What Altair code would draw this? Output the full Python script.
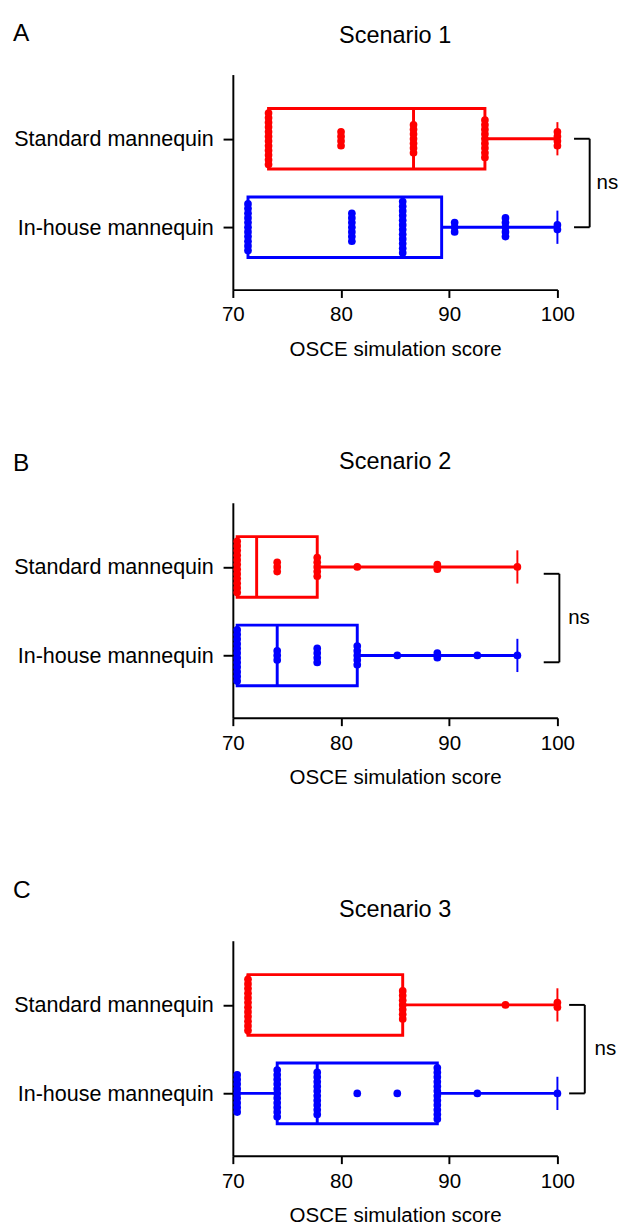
import altair as alt
import pandas as pd

# ---------------- data ----------------
GROUPS = ["Standard mannequin", "In-house mannequin"]
COLORS = ["#ff0000", "#0000ff"]
X_TICKS = [70, 80, 90, 100]
LETTERS = ["A", "B", "C"]
TITLES = ["Scenario 1", "Scenario 2", "Scenario 3"]
SIG_LABEL = "ns"

# Scenario 1 - individual scores (value, number of students)
s1_standard_scores = [73.3, 80.0, 86.7, 93.3, 100.0]
s1_standard_counts = [12, 4, 7, 9, 4]
s1_inhouse_scores = [71.4, 81.0, 85.7, 90.5, 95.2, 100.0]
s1_inhouse_counts = [11, 7, 12, 3, 5, 2]
# box summary: min, Q1, median, Q3, max
s1_standard_box = [73.3, 73.3, 86.7, 93.3, 100.0]
s1_inhouse_box = [71.4, 71.4, 85.7, 89.3, 100.0]

# Scenario 2
s2_standard_scores = [70.4, 74.1, 77.8, 81.5, 88.9, 96.3]
s2_standard_counts = [12, 3, 5, 1, 2, 1]
s2_inhouse_scores = [70.4, 74.1, 77.8, 81.5, 85.2, 88.9, 92.6, 96.3]
s2_inhouse_counts = [12, 3, 4, 5, 1, 2, 1, 1]
s2_standard_box = [70.4, 70.4, 72.2, 77.8, 96.3]
s2_inhouse_box = [70.4, 70.4, 74.1, 81.5, 96.3]

# Scenario 3
s3_standard_scores = [71.4, 85.7, 95.2, 100.0]
s3_standard_counts = [12, 7, 1, 2]
s3_inhouse_scores = [70.4, 74.1, 77.8, 81.5, 85.2, 88.9, 92.6, 100.0]
s3_inhouse_counts = [9, 11, 10, 1, 1, 12, 1, 1]
s3_standard_box = [71.4, 71.4, 71.4, 85.7, 100.0]
s3_inhouse_box = [70.4, 74.1, 77.8, 88.9, 100.0]

PANELS = [
    dict(scores=[s1_standard_scores, s1_inhouse_scores],
         counts=[s1_standard_counts, s1_inhouse_counts],
         box=[s1_standard_box, s1_inhouse_box]),
    dict(scores=[s2_standard_scores, s2_inhouse_scores],
         counts=[s2_standard_counts, s2_inhouse_counts],
         box=[s2_standard_box, s2_inhouse_box]),
    dict(scores=[s3_standard_scores, s3_inhouse_scores],
         counts=[s3_standard_counts, s3_inhouse_counts],
         box=[s3_standard_box, s3_inhouse_box]),
]

# ---------------- styling / layout ----------------
FONT = "Liberation Sans"
W, H = 332, 220
Y_DOMAIN = [-0.67, 1.65]
PX_PER_UNIT = H / (Y_DOMAIN[1] - Y_DOMAIN[0])
DOT_STEP = 5 / PX_PER_UNIT        # vertical spacing of stacked dots
BOX_PX = 62
CAP_PX = 34
# bracket placement relative to right edge of plot: (x0, x1, text x, y shift)
BRACKET = [(17, 33, 40, 0), (-14, 2, 11, 7), (12, 28, 38, 0)]
# baseline of panel letter / scenario title above the plot top
LETTER_Y = [-34, -32, -44]
TITLE_Y = [-32, -35, -24]

xscale = alt.Scale(domain=[70, 100], nice=False, zero=False)
yscale = alt.Scale(domain=Y_DOMAIN, reverse=True, nice=False, zero=False)
label_expr = f"datum.value == 0 ? '{GROUPS[0]}' : '{GROUPS[1]}'"
xaxis = alt.Axis(values=X_TICKS, title="OSCE simulation score", tickSize=8,
                 labelPadding=7, titlePadding=14, labelFlush=False, grid=False)
yaxis = alt.Axis(values=[0, 1], labelExpr=label_expr, title=None, tickSize=10,
                 labelPadding=10, labelLimit=400, labelFontSize=22, grid=False)
color = alt.Color("group:N", scale=alt.Scale(domain=GROUPS, range=COLORS), legend=None)


def X(field):
    return alt.X(field, type="quantitative", scale=xscale, axis=xaxis)


def Y(field):
    return alt.Y(field, type="quantitative", scale=yscale, axis=yaxis)


def build(i, p):
    rows = []
    for gi, (vals, cnts) in enumerate(zip(p["scores"], p["counts"])):
        for v, n in zip(vals, cnts):
            for k in range(n):
                rows.append({"group": GROUPS[gi], "score": v,
                             "pos": gi + (k - (n - 1) / 2) * DOT_STEP})
    dots = pd.DataFrame(rows)
    boxes = pd.DataFrame([
        {"group": GROUPS[gi], "gi": gi, "lo": b[0], "q1": b[1], "med": b[2],
         "q3": b[3], "hi": b[4]} for gi, b in enumerate(p["box"])
    ])
    low_whisk = boxes[boxes["lo"] < boxes["q1"]]

    box = alt.Chart(boxes).mark_bar(size=BOX_PX, fill="white", strokeWidth=3).encode(
        x=X("q1"), x2="q3:Q", y=Y("gi"), stroke=color)
    whisk_hi = alt.Chart(boxes).mark_rule(strokeWidth=3).encode(
        x=X("q3"), x2="hi:Q", y=Y("gi"), color=color)
    layers = [box, whisk_hi]
    if len(low_whisk):
        layers.append(alt.Chart(low_whisk).mark_rule(strokeWidth=3).encode(
            x=X("lo"), x2="q1:Q", y=Y("gi"), color=color))
    median = alt.Chart(boxes).mark_point(
        shape="M0,-1L0,1", size=BOX_PX ** 2, strokeWidth=3, filled=False, opacity=1
    ).encode(x=X("med"), y=Y("gi"), color=color)
    cap = alt.Chart(boxes).mark_point(
        shape="M0,-1L0,1", size=CAP_PX ** 2, strokeWidth=2, filled=False, opacity=1
    ).encode(x=X("hi"), y=Y("gi"), color=color)
    pts = alt.Chart(dots).mark_circle(size=62, opacity=1).encode(
        x=X("score"), y=Y("pos"), color=color)
    layers += [median, cap, pts]

    b0, b1, bt, dy = BRACKET[i]
    ends = pd.DataFrame({"gi": [0, 1]})
    span = pd.DataFrame({"y0": [0], "y1": [1], "mid": [0.5], "t": [SIG_LABEL]})
    br_h = alt.Chart(ends).mark_rule(color="black", strokeWidth=2, yOffset=dy).encode(
        x=alt.value(W + b0), x2=alt.value(W + b1), y=Y("gi"))
    br_v = alt.Chart(span).mark_rule(color="black", strokeWidth=2, yOffset=dy,
                                     y2Offset=dy).encode(
        x=alt.value(W + b1), y=Y("y0"), y2="y1:Q")
    ns = alt.Chart(span).mark_text(align="left", baseline="middle", fontSize=21,
                                   font=FONT, color="black", yOffset=dy).encode(
        x=alt.value(W + bt), y=Y("mid"), text="t:N")
    lab = pd.DataFrame({"letter": [LETTERS[i]], "title": [TITLES[i]]})
    letter = alt.Chart(lab).mark_text(align="left", baseline="alphabetic", fontSize=25,
                                      font=FONT, color="black").encode(
        x=alt.value(-225), y=alt.value(LETTER_Y[i]), text="letter:N")
    title = alt.Chart(lab).mark_text(align="center", baseline="alphabetic", fontSize=24,
                                     font=FONT, color="black").encode(
        x=alt.value(W / 2), y=alt.value(TITLE_Y[i]), text="title:N")
    layers += [br_h, br_v, ns, letter, title]
    return alt.layer(*layers).properties(width=W, height=H)


chart = alt.vconcat(*[build(i, p) for i, p in enumerate(PANELS)], spacing=93).properties(
    padding={"left": 5, "top": 0, "right": 0, "bottom": 0}
).configure_axis(
    labelFont=FONT, titleFont=FONT, labelFontSize=21, titleFontSize=21,
    labelColor="black", titleColor="black", domainColor="black", tickColor="black",
    domainWidth=2, tickWidth=2, titleFontWeight="normal"
).configure_view(stroke=None)

chart.save("out.html", embed_options={"renderer": "svg", "actions": False})
